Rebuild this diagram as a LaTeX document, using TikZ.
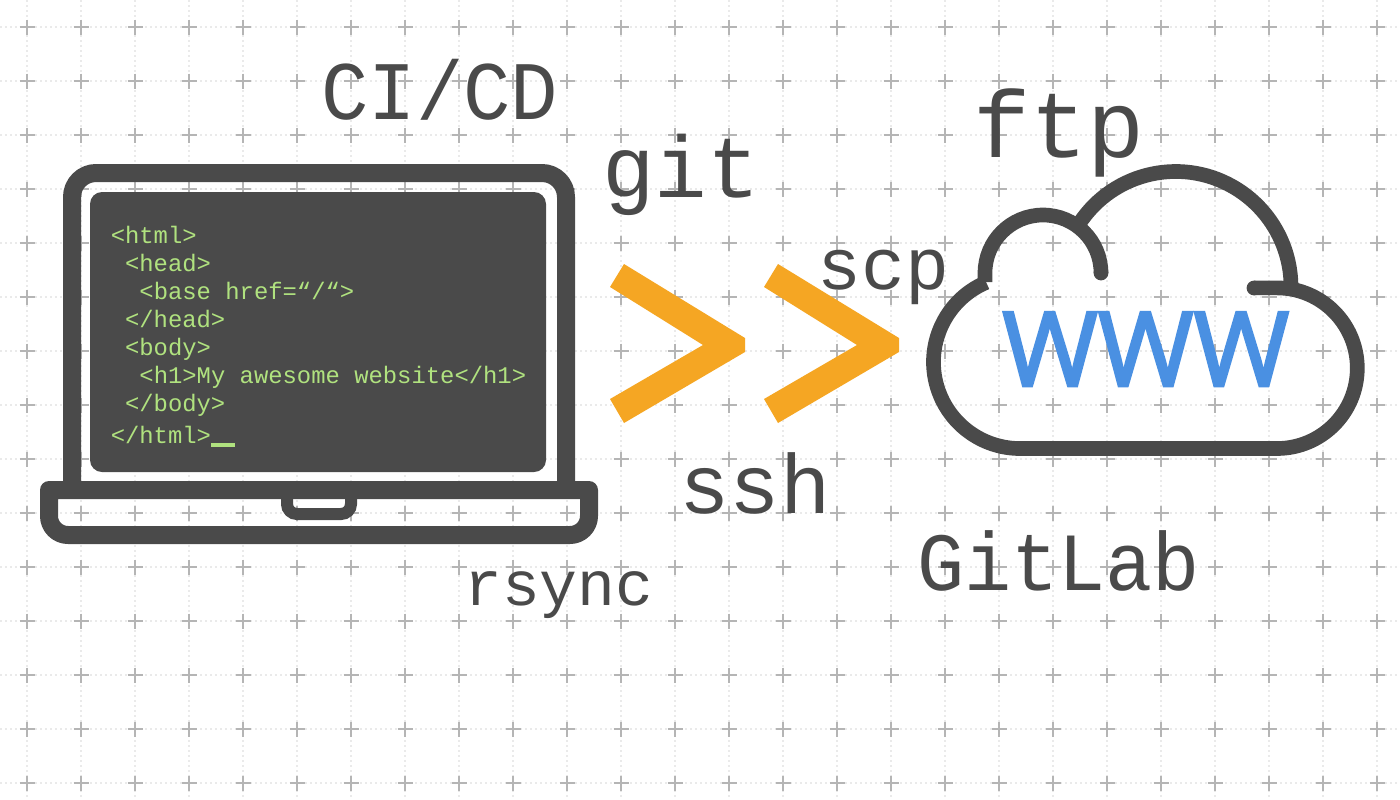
\documentclass[tikz,border=0pt]{standalone}
\usepackage{fontspec}
\setmainfont{Open Sans}
\setmonofont{Liberation Mono}
\newfontfamily\lblfont[FakeStretch=0.95]{Liberation Mono}
\newfontfamily\wwwfont[FakeBold=2.5]{Open Sans}
\definecolor{ink}{HTML}{4A4A4A}
\definecolor{codegreen}{HTML}{B0E27F}
\definecolor{orangeb}{HTML}{F5A623}
\definecolor{blueb}{HTML}{4A90E2}
\definecolor{gridc}{HTML}{EAEAEA}
\definecolor{crossc}{HTML}{B5B5B5}
\tikzset{
 lbl/.style={inner sep=0pt,anchor=base west,text=ink,font=\lblfont\fontsize{#1}{#1}\selectfont},
 lowlbl/.style={inner sep=0pt,anchor=base west,text=ink,font=\ttfamily\fontsize{#1}{#1}\selectfont},
 codeline/.style={inner sep=0pt,anchor=base west,text=codegreen,font=\ttfamily\fontsize{17.9}{17.9}\selectfont},
 gridline/.style={gridc,line width=1.1pt,dash pattern=on 1.5pt off 2.25pt},
 crossline/.style={crossc,line width=1.3pt},
 device/.style={ink,line width=13.5pt,line join=round},
 cloudline/.style={ink,line width=11pt,line join=round},
 chevron/.style={fill=orangeb,draw=none}
}
\begin{document}
\begin{tikzpicture}[x=0.75pt,y=-0.75pt]
\useasboundingbox (0,0) rectangle (1400,800);
\fill[white] (0,0) rectangle (1400,800);
% grid
\foreach \i in {0,...,25}{\draw[gridline] ({27+54*\i},0) -- ({27+54*\i},800);}
\foreach \j in {0,...,14}{\draw[gridline] (0,{27+54*\j}) -- (1400,{27+54*\j});}
\foreach \i in {0,...,25}{\foreach \j in {0,...,14}{
 \draw[crossline] ({27+54*\i-7.5},{27+54*\j}) -- ({27+54*\i+7.5},{27+54*\j});
 \draw[crossline] ({27+54*\i},{27+54*\j-7.5}) -- ({27+54*\i},{27+54*\j+7.5});
}}
% laptop lid
\draw[device] (72,490) -- (72,197) arc[start angle=180,end angle=270,radius=24] -- (542,173) arc[start angle=270,end angle=360,radius=24] -- (566,490);
% screen
\fill[ink,rounded corners=9] (90,192) rectangle (546,472);
% base
\draw[device,line join=round] (49,490) -- (589,490) -- (589,516) arc[start angle=0,end angle=90,radius=19] -- (68,535) arc[start angle=90,end angle=180,radius=19] -- cycle;
% notch
\draw[ink,line width=9pt] (287,499) -- (287,504) arc[start angle=180,end angle=90,radius=10] -- (341,514) arc[start angle=90,end angle=0,radius=10] -- (351,499);
% code
\node[codeline] (c1) at (110.5,243) {<html>};
\node[codeline] (c2) at (124.8,271) {<head>};
\node[codeline] (c3) at (139.2,299) {<base href=“/“>};
\node[codeline] (c4) at (124.8,327) {</head>};
\node[codeline] (c5) at (124.8,355) {<body>};
\node[codeline] (c6) at (139.2,383) {<h1>My awesome website</h1>};
\node[codeline] (c7) at (124.8,411) {</body>};
\node[codeline] (c8) at (110.5,443) {</html>};
\fill[codegreen] (210.5,443) rectangle (234.5,447);
% chevrons
\fill[chevron] (624,264) -- (745,338) -- (745,352) -- (624,423) -- (610,399) -- (703,345) -- (610,287) -- cycle;
\fill[chevron] (778,264) -- (899,338) -- (899,352) -- (778,423) -- (764,399) -- (857,345) -- (764,287) -- cycle;
% cloud
\draw[cloudline] (985,282) -- (985,273) arc[start angle=180,end angle=360,radius=58];
\fill[ink] (1101,273) circle (7.4);
\draw[cloudline] (1079,224) arc[start angle=213,end angle=360,radius=115.3];
\draw[cloudline] (986.2,282.4) arc[start angle=247,end angle=90,radius=86.5] -- (1277,448.5) arc[start angle=90,end angle=-90,radius=80.3] -- (1254,287.9);
\fill[ink] (1254,288) circle (7.4);
% www
\node[inner sep=0pt,anchor=base west,text=blueb,font=\wwwfont\fontsize{77.5}{77.5}\selectfont] (www) at (1002,386) {WWW};
% labels
\node[lbl=62.4] (cicd) at (321,119) {CI/CD};
\node[lowlbl=65.6] (git) at (602,197) {git};
\node[lowlbl=71.2] (ftp) at (973,157) {ftp};
\node[lowlbl=54.9] (scp) at (817,289) {scp};
\node[lowlbl=63] (ssh) at (679,513) {ssh};
\node[lbl=62] (gitlab) at (917,590) {GitLab};
\node[lowlbl=47.3] (rsync) at (464,605) {rsync};
\end{tikzpicture}
\end{document}
